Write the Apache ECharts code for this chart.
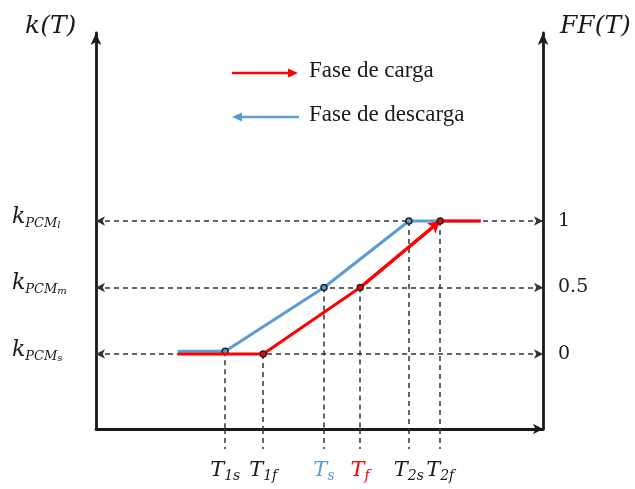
<!DOCTYPE html>
<html>
<head>
<meta charset="utf-8">
<script src="https://cdn.jsdelivr.net/npm/echarts@6/dist/echarts.min.js"></script>
<style>
  html, body { margin: 0; padding: 0; background: #ffffff; }
  #chart { width: 635px; height: 489px; }
</style>
</head>
<body>
<div id="chart"></div>
<script>
// Characteristic temperatures along the T axis (schematic units)
const tempValues = [28.9, 37.4, 51.0, 59.1, 70.0, 77.0];
const tempLabels = [
  '{t|T}{s|1s}', '{t|T}{s|1f}', '{tb|T}{sb|s}', '{tr|T}{sr|f}', '{t|T}{s|2s}', '{t|T}{s|2f}'
];

// Liquid fraction levels FF(T) and the matching conductivity labels k(T)
const ffLevels = [0, 0.5, 1];
const ffLabels = ['0', '0.5', '1'];
const kLabels = ['{k|k}{p|PCM}{q|s}', '{k|k}{p|PCM}{q|m}', '{k|k}{p|PCM}{q|l}'];

// Charging phase (fase de carga)
const cargaT  = [18.3, 37.4, 59.1, 77.0, 86.1];
const cargaFF = [0, 0, 0.5, 1, 1];

// Discharging phase (fase de descarga)
const descargaT  = [18.3, 28.9, 51.0, 70.0, 85.9];
const descargaFF = [0.02, 0.02, 0.5, 1, 1];

const RED = '#ff0000';
const BLUE = '#5b9bd5';
const INK = '#1a1a1a';

const xMin = 0, xMax = 100;
const yMin = -0.564, yMax = 2.414;

const pairs = (xs, ys) => xs.map((x, i) => [x, ys[i]]);
const interior = (n) => (v, p) => (p.dataIndex > 0 && p.dataIndex < n - 1) ? 'circle' : 'none';

// Dashed guides: horizontal levels (arrow-tipped at both axes) and vertical drops to the T axis
const guideData = [];
ffLevels.forEach(lv => {
  guideData.push([
    { coord: [xMin, lv], symbol: 'arrow' },
    { coord: [xMax, lv], symbol: 'arrow' }
  ]);
});
[1, 2, 3].forEach(i => {
  guideData.push([
    { coord: [descargaT[i], descargaFF[i]], symbol: 'none' },
    { coord: [descargaT[i], yMin], symbol: 'none' }
  ]);
  guideData.push([
    { coord: [cargaT[i], cargaFF[i]], symbol: 'none' },
    { coord: [cargaT[i], yMin], symbol: 'none' }
  ]);
});

const mathFont = '"DejaVu Serif", serif';
const labelFor = (values, labels) => (v) => {
  const i = values.findIndex(t => Math.abs(t - v) < 1e-6);
  return i >= 0 ? labels[i] : '';
};

const axisLineStyle = { color: INK, width: 2.8 };

const subStyle = (color) => ({ fontFamily: mathFont, fontStyle: 'italic', fontSize: 14, lineHeight: 8, verticalAlign: 'bottom', color });
const mainStyle = (color) => ({ fontFamily: mathFont, fontStyle: 'italic', fontSize: 21, lineHeight: 24, color });

const chart = echarts.init(document.getElementById('chart'), null, { renderer: 'canvas' });
chart.setOption({
  animation: false,
  backgroundColor: '#ffffff',
  grid: { left: 96, right: 92, top: 33, bottom: 60 },
  xAxis: {
    type: 'value', min: xMin, max: xMax,
    splitLine: { show: false },
    axisLine: { show: true, onZero: false, lineStyle: axisLineStyle, symbol: ['none', 'arrow'], symbolSize: [8, 10] },
    axisTick: {
      show: true, customValues: tempValues, length: 20, inside: false,
      lineStyle: { color: '#333', width: 1.5, type: [5, 4] }
    },
    axisLabel: {
      show: true, customValues: tempValues, margin: 30,
      formatter: labelFor(tempValues, tempLabels),
      rich: {
        t: mainStyle(INK), s: subStyle(INK),
        tb: mainStyle(BLUE), sb: subStyle(BLUE),
        tr: mainStyle(RED), sr: subStyle(RED)
      }
    }
  },
  yAxis: [
    {
      type: 'value', position: 'left', min: yMin, max: yMax,
      splitLine: { show: false },
      axisTick: { show: false },
      axisLine: { show: true, onZero: false, lineStyle: axisLineStyle, symbol: ['none', 'arrow'], symbolSize: [8, 12] },
      axisLabel: {
        show: true, customValues: ffLevels, align: 'left', margin: 84,
        padding: [0, 0, 8, 0],
        formatter: labelFor(ffLevels, kLabels),
        rich: {
          k: { fontFamily: mathFont, fontStyle: 'italic', fontSize: 22, lineHeight: 26, color: INK },
          p: { fontFamily: mathFont, fontStyle: 'italic', fontSize: 13, lineHeight: 10, verticalAlign: 'bottom', color: INK },
          q: { fontFamily: mathFont, fontStyle: 'italic', fontSize: 10, lineHeight: 1, verticalAlign: 'bottom', color: INK }
        }
      }
    },
    {
      type: 'value', position: 'right', min: yMin, max: yMax,
      splitLine: { show: false },
      axisTick: { show: false },
      axisLine: { show: true, onZero: false, lineStyle: axisLineStyle, symbol: ['none', 'arrow'], symbolSize: [8, 12] },
      axisLabel: {
        show: true, customValues: ffLevels, margin: 15,
        formatter: labelFor(ffLevels, ffLabels),
        fontFamily: mathFont, fontSize: 19, color: INK
      }
    }
  ],
  graphic: [
    { type: 'text', left: 25, top: 14, style: { text: 'k(T)', font: 'italic 25px ' + mathFont, fill: INK } },
    { type: 'text', left: 560, top: 14, style: { text: 'FF(T)', font: 'italic 25px ' + mathFont, fill: INK } },
    // legend: charging arrow
    { type: 'line', shape: { x1: 232, y1: 73, x2: 290, y2: 73 }, style: { stroke: RED, lineWidth: 2.5 } },
    { type: 'polygon', shape: { points: [[298, 73], [288, 68.5], [288, 77.5]] }, style: { fill: RED } },
    { type: 'text', left: 309, top: 59, style: { text: 'Fase de carga', font: '23px "Liberation Serif", serif', fill: INK } },
    // legend: discharging arrow
    { type: 'line', shape: { x1: 240, y1: 117, x2: 299, y2: 117 }, style: { stroke: BLUE, lineWidth: 2.5 } },
    { type: 'polygon', shape: { points: [[232, 117], [242, 112.5], [242, 121.5]] }, style: { fill: BLUE } },
    { type: 'text', left: 309, top: 103, style: { text: 'Fase de descarga', font: '23px "Liberation Serif", serif', fill: INK } }
  ],
  series: [
    {
      name: 'Fase de descarga', type: 'line', z: 3,
      data: pairs(descargaT, descargaFF),
      symbol: interior(descargaT.length), symbolSize: 6, showSymbol: true,
      lineStyle: { color: BLUE, width: 3 },
      itemStyle: { color: BLUE, borderColor: '#222', borderWidth: 1.5 },
      silent: true,
      markLine: {
        z: 1, silent: true, animation: false,
        symbolSize: [7, 9],
        label: { show: false },
        emphasis: { disabled: true },
        lineStyle: { color: '#333', width: 1.5, type: [5, 4] },
        data: guideData
      }
    },
    {
      name: 'Fase de carga', type: 'line', z: 4,
      data: pairs(cargaT, cargaFF),
      symbol: interior(cargaT.length), symbolSize: 6, showSymbol: true,
      lineStyle: { color: RED, width: 3 },
      itemStyle: { color: RED, borderColor: '#222', borderWidth: 1.5 },
      silent: true,
      markLine: {
        z: 4, silent: true, animation: false,
        symbol: ['none', 'arrow'], symbolSize: [10, 12],
        label: { show: false },
        emphasis: { disabled: true },
        lineStyle: { color: RED, width: 3, type: 'solid' },
        data: [[{ coord: [cargaT[2], cargaFF[2]] }, { coord: [cargaT[3], cargaFF[3]] }]]
      }
    }
  ]
});
</script>
</body>
</html>
